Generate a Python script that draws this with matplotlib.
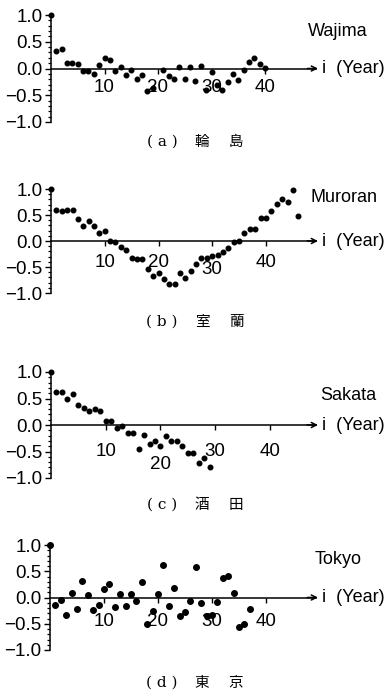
import matplotlib
matplotlib.use("Agg")
import matplotlib.pyplot as plt
import numpy as np

# Autocorrelation of annual series against lag i (years)
wajima_lag = list(range(0, 20)) + list(range(21, 41))
wajima_r = [1.0, 0.32, 0.37, 0.10, 0.10, 0.08, -0.04, -0.04, -0.10, 0.06,
            0.20, 0.15, -0.04, 0.03, -0.12, -0.03, -0.20, -0.12, -0.42, -0.37,
            -0.03, -0.14, -0.19, 0.03, -0.20, 0.03, -0.23, 0.05, -0.40, -0.07,
            -0.30, -0.40, -0.25, -0.11, -0.22, -0.03, 0.12, 0.19, 0.08, 0.01]

muroran_lag = list(range(0, 47))
muroran_r = [1.0, 0.59, 0.57, 0.60, 0.60, 0.42, 0.29, 0.38, 0.28, 0.16,
             0.19, 0.00, -0.01, -0.11, -0.17, -0.33, -0.34, -0.35, -0.54, -0.67,
             -0.61, -0.74, -0.83, -0.83, -0.62, -0.72, -0.58, -0.45, -0.33, -0.32,
             -0.29, -0.26, -0.22, -0.13, -0.01, 0.00, 0.16, 0.24, 0.24, 0.44,
             0.45, 0.58, 0.72, 0.81, 0.75, 0.99, 0.48]

sakata_lag = list(range(0, 30))
sakata_r = [1.0, 0.62, 0.62, 0.50, 0.59, 0.37, 0.32, 0.27, 0.31, 0.27,
            0.08, 0.07, -0.06, -0.01, -0.15, -0.16, -0.45, -0.19, -0.35, -0.30,
            -0.39, -0.20, -0.30, -0.31, -0.39, -0.52, -0.52, -0.71, -0.63, -0.80]

tokyo_lag = list(range(0, 38))
tokyo_r = [1.0, -0.15, -0.04, -0.34, 0.08, -0.22, 0.32, 0.05, -0.23, -0.15,
           0.17, 0.25, -0.19, 0.06, -0.17, 0.06, -0.06, 0.30, -0.50, -0.25,
           0.06, 0.62, -0.17, 0.18, -0.35, -0.28, -0.07, 0.58, -0.10, -0.35,
           -0.33, -0.08, 0.38, 0.41, 0.08, -0.57, -0.51, -0.22]

stations = ["Wajima", "Muroran", "Sakata", "Tokyo"]
captions = [("( a )", "輪", "島"), ("( b )", "室", "蘭"),
            ("( c )", "酒", "田"), ("( d )", "東", "京")]
x_ticks = [10, 20, 30, 40]
y_ticks = [-1.0, -0.5, 0.0, 0.5, 1.0]
y_ticklabels = ["−1.0", "−0.5", "0.0", "0.5", "1.0"]
axis_label = "i  (Year)"

series = [(wajima_lag, wajima_r), (muroran_lag, muroran_r),
          (sakata_lag, sakata_r), (tokyo_lag, tokyo_r)]

# layout in pixels (top-origin): y of r=1.0, y of r=-1.0, px per year, x of origin
W, H = 388, 694
layout = [
    dict(top=15, bot=122, ppy=5.35, x0=51, name_xy=(308, 32), cap_y=142,
         lab_off=[11, 11, 11, 11], ms=3.3),
    dict(top=189, bot=293, ppy=5.375, x0=51, name_xy=(310, 198), cap_y=322,
         lab_off=[13, 13, 20, 13], ms=3.3),
    dict(top=372, bot=478, ppy=5.475, x0=51, name_xy=(320, 395), cap_y=505,
         lab_off=[18, 31, 18, 18], ms=3.3),
    dict(top=545, bot=650, ppy=5.4, x0=50, name_xy=(315, 560), cap_y=683,
         lab_off=[15, 15, 15, 15], ms=4.0),
]
x_end = 318

plt.rcParams["font.family"] = ["Liberation Sans", "DejaVu Sans"]
fig = plt.figure(figsize=(W / 100, H / 100), dpi=100)

for (lag, r), name, cap, L in zip(series, stations, captions, layout):
    left = L["x0"] / W
    width = (x_end - L["x0"]) / W
    bottom = 1 - L["bot"] / H
    height = (L["bot"] - L["top"]) / H
    ax = fig.add_axes([left, bottom, width, height])
    xmax = (x_end - L["x0"]) / L["ppy"]
    ax.set_xlim(0, xmax)
    ax.set_ylim(-1.0, 1.0)
    ax.patch.set_alpha(0)

    for s in ("top", "right"):
        ax.spines[s].set_visible(False)
    ax.spines["left"].set_linewidth(1.1)
    ax.spines["bottom"].set_position(("data", 0))
    ax.spines["bottom"].set_linewidth(1.1)
    ax.spines["bottom"].set_bounds(0, xmax - 0.3)

    # arrowhead at the end of the lag axis
    ax.annotate("", xy=(xmax, 0), xytext=(xmax - 2, 0),
                arrowprops=dict(arrowstyle="->", lw=1.1, color="black",
                                shrinkA=0, shrinkB=0, mutation_scale=9),
                annotation_clip=False)

    ax.set_yticks(y_ticks)
    ax.set_yticklabels(y_ticklabels, fontsize=13.5)
    ax.set_yticks(np.arange(-1.0, 1.001, 0.1), minor=True)
    ax.tick_params(axis="y", which="major", length=4, width=1.0, pad=2)
    ax.tick_params(axis="y", which="minor", length=2.5, width=0.9)

    ax.set_xticks(x_ticks)
    ax.set_xticklabels([])
    ax.tick_params(axis="x", which="major", length=3.5, width=1.0, direction="out")
    for t, off in zip(x_ticks, L["lab_off"]):
        ax.annotate(str(t), xy=(t, 0), xytext=(0, -off), textcoords="offset pixels",
                    ha="center", va="top", fontsize=13.5, annotation_clip=False)

    ax.plot(lag, r, linestyle="none", marker="o", ms=L["ms"], color="black",
            clip_on=False, zorder=5)

    ax.annotate(axis_label, xy=(xmax, 0), xytext=(4, 0), textcoords="offset pixels",
                ha="left", va="center", fontsize=13, annotation_clip=False)

    fig.text(L["name_xy"][0] / W, 1 - L["name_xy"][1] / H, name,
             ha="left", va="center", fontsize=13)

    cy = 1 - L["cap_y"] / H
    fig.text(162 / W, cy, cap[0], ha="center", va="center", fontsize=11,
             family=["DejaVu Serif"])
    fig.text(202 / W, cy, cap[1], ha="center", va="center", fontsize=10.5,
             family=["Noto Sans CJK JP", "DejaVu Sans"])
    fig.text(236 / W, cy, cap[2], ha="center", va="center", fontsize=10.5,
             family=["Noto Sans CJK JP", "DejaVu Sans"])

fig.savefig("out.png", dpi=100)
